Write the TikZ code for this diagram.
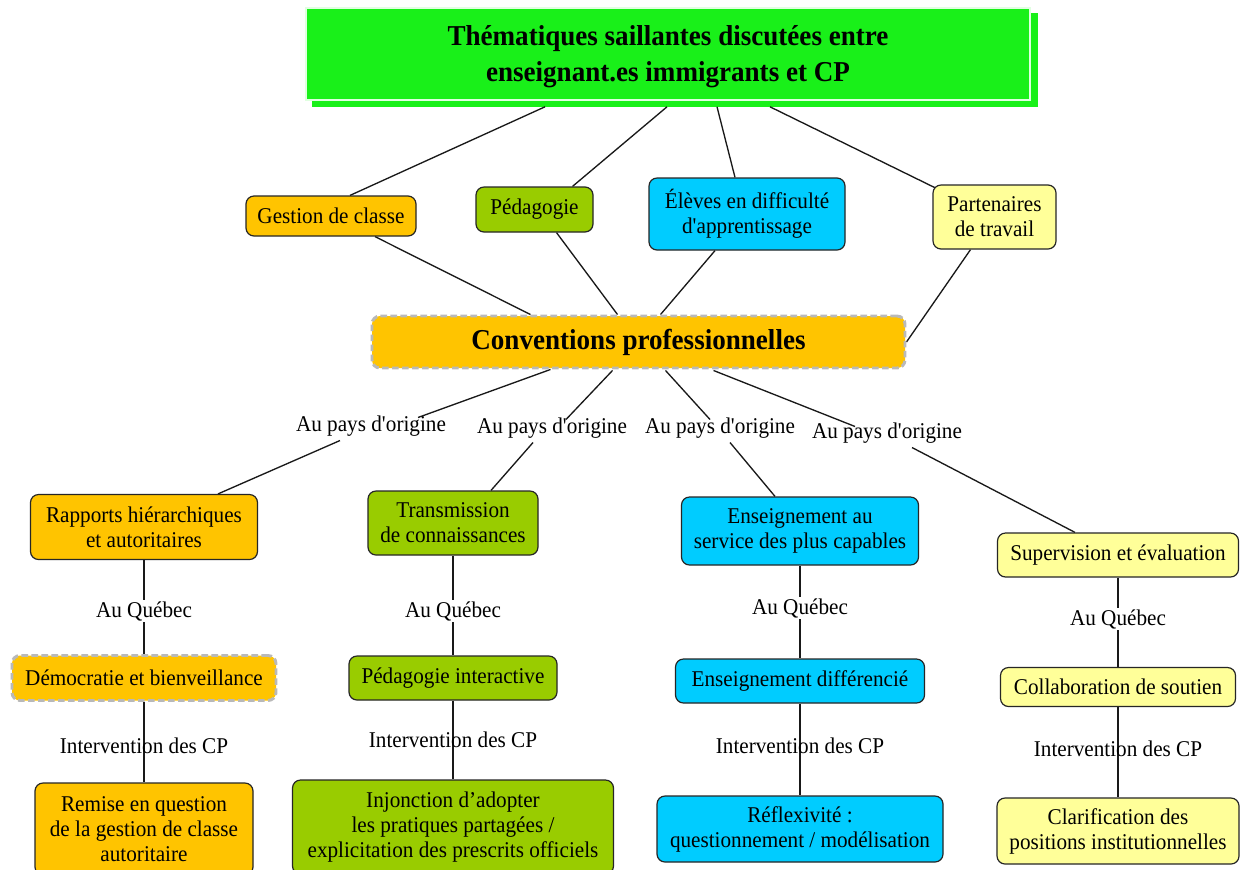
\documentclass[tikz,border=0pt]{standalone}
\usepackage{fontspec}
\setmainfont[FakeStretch=0.94]{Liberation Serif}
\usetikzlibrary{calc}
\pgfdeclarelayer{background}
\pgfsetlayers{background,main}
\definecolor{cOr}{RGB}{255,196,0}
\definecolor{cGr}{RGB}{153,204,0}
\definecolor{cBl}{RGB}{0,204,255}
\definecolor{cYe}{RGB}{255,255,153}
\definecolor{cTi}{RGB}{25,240,25}
\tikzset{
  sz/.style 2 args={minimum width=#1*0.75pt,minimum height=#2*0.75pt},
  txt/.style={font=\fontsize{16.9}{18.8}\selectfont, align=center, inner sep=0pt},
  bigtxt/.style={font=\bfseries\fontsize{21.6}{27}\selectfont, align=center, inner sep=0pt},
  box/.style={txt, rounded corners=6pt, draw=black!85, line width=0.9pt},
  dbox/.style={rounded corners=6pt, draw=gray!55, line width=2.2pt, dash pattern=on 5pt off 2.5pt},
  lbl/.style={txt},
  qlbl/.style={txt, fill=white, inner sep=1pt},
  conn/.style={draw=black!90, line width=1pt}
}
\begin{document}
\begin{tikzpicture}[x=0.75pt,y=-0.75pt]
\useasboundingbox (0,0) rectangle (1244,869);

% title
\node[bigtxt, sz={724}{92}, fill=cTi, draw=green!12!white, line width=1.2pt] (title) at (668,54) {};
\node[bigtxt] (titletext) at (668,57) {Thématiques saillantes discutées entre\\enseignant.es immigrants et CP};

% level 2
\node[box, fill=cOr, sz={170}{40}] (gest) at (331,216) {Gestion de classe};
\node[box, fill=cGr, sz={117}{45}] (ped) at (534.5,209.5) {Pédagogie};
\node[box, fill=cBl, sz={196}{72}] (elev) at (747,214) {Élèves en difficulté\\d\textquotesingle apprentissage};
\node[box, fill=cYe, sz={123}{64}] (part) at (994.5,217) {Partenaires\\de travail};

% conventions
\node[bigtxt, dbox, fill=cOr, sz={533}{52}] (conv) at (638.5,342) {Conventions professionnelles};

% labels au pays d'origine
\node[lbl] (p1) at (371,426) {Au pays d\textquotesingle origine};
\node[lbl] (p2) at (552,428) {Au pays d\textquotesingle origine};
\node[lbl] (p3) at (720,428) {Au pays d\textquotesingle origine};
\node[lbl] (p4) at (887,433) {Au pays d\textquotesingle origine};

% level 3
\node[box, fill=cOr, sz={227}{65}] (rap) at (144,527) {Rapports hiérarchiques\\et autoritaires};
\node[box, fill=cGr, sz={170}{64}] (tra) at (453,523) {Transmission\\de connaissances};
\node[box, fill=cBl, sz={237}{68}] (ens) at (800,531) {Enseignement au\\service des plus capables};
\node[box, fill=cYe, sz={241}{44}] (sup) at (1118,555) {Supervision et évaluation};

% Au Québec
\node[qlbl] (q1) at (144,611) {Au Québec};
\node[qlbl] (q2) at (453,611) {Au Québec};
\node[qlbl] (q3) at (800,608) {Au Québec};
\node[qlbl] (q4) at (1118,619) {Au Québec};

% level 4
\node[txt, dbox, fill=cOr, sz={264}{45}] (demo) at (144,678) {Démocratie et bienveillance};
\node[box, fill=cGr, sz={208}{44}] (pint) at (453,678) {Pédagogie interactive};
\node[box, fill=cBl, sz={249}{44}] (ediff) at (800,681) {Enseignement différencié};
\node[box, fill=cYe, sz={235}{39}] (collab) at (1118,687) {Collaboration de soutien};

% Intervention des CP
\node[lbl] (i1) at (144,746) {Intervention des CP};
\node[lbl] (i2) at (453,740) {Intervention des CP};
\node[lbl] (i3) at (800,746) {Intervention des CP};
\node[lbl] (i4) at (1118,749) {Intervention des CP};

% level 5
\node[box, fill=cOr, sz={218}{92}] (rem) at (144,829) {Remise en question\\de la gestion de classe\\autoritaire};
\node[box, fill=cGr, sz={321}{94}] (inj) at (453,827) {Injonction d’adopter\\les pratiques partagées /\\explicitation des prescrits officiels};
\node[box, fill=cBl, sz={286}{66}] (refl) at (800,829) {Réflexivité :\\questionnement / modélisation};
\node[box, fill=cYe, sz={242}{66}] (clar) at (1118,831) {Clarification des\\positions institutionnelles};

\begin{pgfonlayer}{background}
\fill[white] (0,0) rectangle (1244,869);
\fill[cTi] ($(title.south west)+(7,6)$) rectangle ($(title.north east)+(7,6)$);
% title to level 2
\draw[conn] ($(title.south)+(-123,6)$) -- ($(gest.north)+(19,0)$);
\draw[conn] ($(title.south)+(-1,6)$) -- ($(ped.north)+(38,0)$);
\draw[conn] ($(title.south)+(49,6)$) -- ($(elev.north)+(-12,0)$);
\draw[conn] ($(title.south)+(102,6)$) -- ($(part.north west)+(4,4)$);
% level 2 to conventions
\draw[conn] ($(gest.south)+(44,0)$) -- ($(conv.north)+(-108,0)$);
\draw[conn] ($(ped.south)+(22,0)$) -- ($(conv.north)+(-21,0)$);
\draw[conn] ($(elev.south)+(-32,0)$) -- ($(conv.north)+(22,0)$);
\draw[conn] ($(part.south)+(-24,0)$) -- (conv.east);
% conventions to labels
\draw[conn] ($(conv.south)+(-88,0)$) -- ($(p1.north)+(47,2)$);
\draw[conn] ($(conv.south)+(-26,1)$) -- ($(p2.north)+(14,2)$);
\draw[conn] ($(conv.south)+(27,1)$) -- ($(p3.north)+(-10,2)$);
\draw[conn] ($(conv.south)+(75,1)$) -- ($(p4.north)+(-32,4)$);
% labels to level 3
\draw[conn] ($(p1.south)+(-31,4)$) -- ($(rap.north)+(74,0)$);
\draw[conn] ($(p2.south)+(-19,4)$) -- ($(tra.north)+(38,0)$);
\draw[conn] ($(p3.south)+(10,4)$) -- ($(ens.north)+(-25,0)$);
\draw[conn] ($(p4.south)+(25,4)$) -- ($(sup.north)+(-43,0)$);
% verticals
\draw[conn] (rap) -- (demo);
\draw[conn] (tra) -- (pint);
\draw[conn] (ens) -- (ediff);
\draw[conn] (sup) -- (collab);
\draw[conn] (demo) -- (rem);
\draw[conn] (pint) -- (inj);
\draw[conn] (ediff) -- (refl);
\draw[conn] (collab) -- (clar);
\end{pgfonlayer}
\end{tikzpicture}
\end{document}
